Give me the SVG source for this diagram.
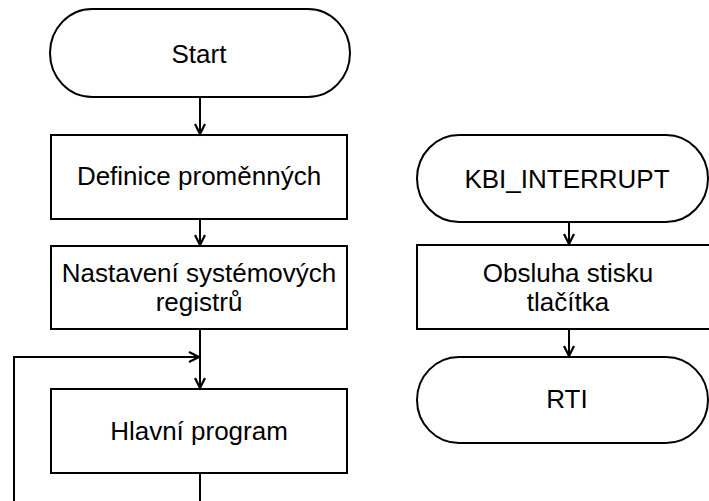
<svg xmlns="http://www.w3.org/2000/svg" width="709" height="501" viewBox="0 0 709 501">
<style>
.shape{fill:#fff;stroke:#000;stroke-width:2}
.lbl{font-family:"Liberation Sans",Arial,sans-serif;font-size:26px;fill:#000;text-anchor:middle}
.conn{fill:none;stroke:#000;stroke-width:2}
</style>
<defs>
<marker id="arr" markerWidth="14" markerHeight="14" refX="11" refY="6" orient="auto" markerUnits="userSpaceOnUse">
<polyline points="1,1 11,6 1,11" fill="none" stroke="#000" stroke-width="2.2"/>
</marker>
</defs>
<rect width="709" height="501" fill="#fff"/>
<g id="start">
<path class="shape" d="M92,9 H308 A42,44 0 0 1 308,97 H92 A42,44 0 0 1 92,9 Z"/>
<text class="lbl" x="199" y="63">Start</text>
</g>
<g id="definice">
<rect class="shape" x="51" y="135" width="296" height="84"/>
<text class="lbl" x="199" y="185">Definice proměnných</text>
</g>
<g id="nastaveni">
<rect class="shape" x="51" y="246" width="296" height="83"/>
<text class="lbl" x="199" y="282">Nastavení systémových</text>
<text class="lbl" x="199" y="311">registrů</text>
</g>
<g id="hlavni">
<rect class="shape" x="51" y="389" width="296" height="84"/>
<text class="lbl" x="199" y="440">Hlavní program</text>
</g>
<g id="kbi">
<path class="shape" d="M459,135 H666 A42,43.5 0 0 1 666,222 H459 A42,43.5 0 0 1 459,135 Z"/>
<text class="lbl" x="567" y="188">KBI_INTERRUPT</text>
</g>
<g id="obsluha">
<rect class="shape" x="417" y="245" width="300" height="84"/>
<text class="lbl" x="568" y="282">Obsluha stisku</text>
<text class="lbl" x="568" y="311">tlačítka</text>
</g>
<g id="rti">
<path class="shape" d="M459,357 H666 A42,43 0 0 1 666,443 H459 A42,43 0 0 1 459,357 Z"/>
<text class="lbl" x="567" y="408">RTI</text>
</g>
<g id="connectors">
<line class="conn" x1="200" y1="97" x2="200" y2="134" marker-end="url(#arr)"/>
<line class="conn" x1="200" y1="219" x2="200" y2="245" marker-end="url(#arr)"/>
<line class="conn" x1="200" y1="329" x2="200" y2="388" marker-end="url(#arr)"/>
<polyline class="conn" points="200,501 200,473"/>
<polyline class="conn" points="14,501 14,357 199,357" marker-end="url(#arr)"/>
<line class="conn" x1="569" y1="222" x2="569" y2="244" marker-end="url(#arr)"/>
<line class="conn" x1="569" y1="329" x2="569" y2="356" marker-end="url(#arr)"/>
</g>
</svg>
